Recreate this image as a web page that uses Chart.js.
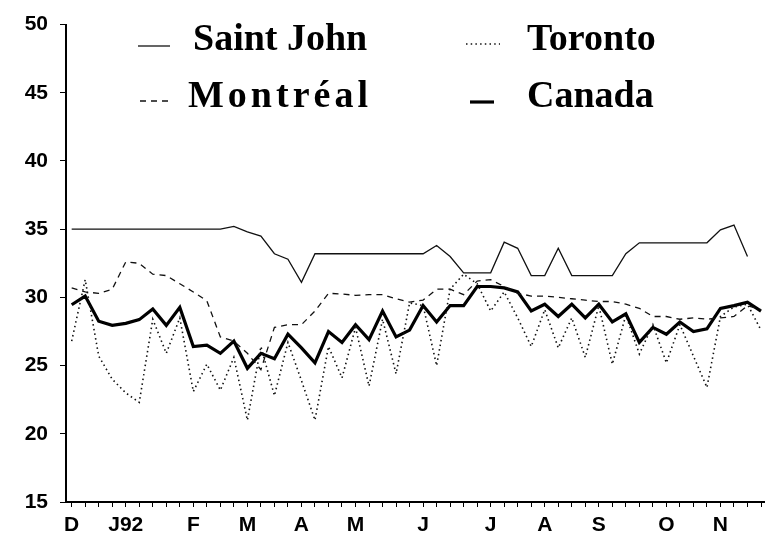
<!DOCTYPE html>
<html>
<head>
<meta charset="utf-8">
<script src="https://cdn.jsdelivr.net/npm/chart.js@4.4.1/dist/chart.umd.min.js"></script>
<style>
  html, body { margin: 0; padding: 0; background: #fff; overflow: hidden; }
  #wrap { position: relative; width: 767px; height: 548px; }
</style>
</head>
<body>
<div id="wrap"><canvas id="rent-chart"></canvas></div>
<script>
// weekly, Dec 1991 - Nov 1992 (52 weeks)
const weeks = Array.from({ length: 52 }, (_, i) => i);

const monthWeeks = [0, 4, 9, 13, 17, 21, 26, 31, 35, 39, 44, 48];
const monthLabels = ['D', 'J92', 'F', 'M', 'A', 'M', 'J', 'J', 'A', 'S', 'O', 'N'];

const saintJohn = [
  35.0, 35.0, 35.0, 35.0, 35.0, 35.0, 35.0, 35.0, 35.0, 35.0,
  35.0, 35.0, 35.2, 34.8, 34.5, 33.2, 32.8, 31.1, 33.2, 33.2,
  33.2, 33.2, 33.2, 33.2, 33.2, 33.2, 33.2, 33.8, 33.0, 31.8,
  31.8, 31.8, 34.05, 33.6, 31.6, 31.6, 33.6, 31.6, 31.6, 31.6,
  31.6, 33.2, 34.0, 34.0, 34.0, 34.0, 34.0, 34.0, 34.95, 35.3,
  33.0, null,
];
const toronto = [
  26.8, 31.3, 25.7, 24.0, 23.0, 22.3, 28.4, 25.9, 28.5, 23.1,
  25.1, 23.2, 25.6, 21.0, 26.4, 22.8, 26.7, 23.9, 21.0, 26.4,
  24.1, 27.8, 23.5, 28.4, 24.4, 29.6, 29.4, 25.0, 30.6, 31.7,
  31.0, 29.0, 30.4, 28.5, 26.4, 29.1, 26.3, 28.5, 25.6, 29.4,
  25.1, 28.7, 25.85, 28.0, 25.2, 28.0, 25.7, 23.4, 28.6, 29.3,
  29.5, 27.6,
];
const montreal = [
  30.7, 30.4, 30.3, 30.6, 32.6, 32.5, 31.7, 31.6, 31.0, 30.4,
  29.75, 27.1, 26.8, 25.9, 24.7, 27.8, 28.0, 28.0, 29.0, 30.3,
  30.25, 30.15, 30.2, 30.2, 29.9, 29.65, 29.8, 30.6, 30.6, 30.2,
  31.2, 31.3, 30.8, 30.3, 30.1, 30.1, 30.0, 29.9, 29.8, 29.7,
  29.7, 29.5, 29.2, 28.6, 28.6, 28.4, 28.5, 28.4, 28.5, 28.6,
  29.4, 29.1,
];
const canada = [
  29.46, 30.1, 28.25, 27.95, 28.1, 28.37, 29.15, 27.95, 29.27, 26.4,
  26.5, 25.9, 26.8, 24.8, 25.9, 25.5, 27.3, 26.3, 25.2, 27.5,
  26.7, 28.0, 26.9, 29.0, 27.1, 27.6, 29.4, 28.2, 29.4, 29.4,
  30.8, 30.8, 30.7, 30.4, 29.0, 29.5, 28.6, 29.5, 28.5, 29.5,
  28.2, 28.8, 26.7, 27.8, 27.3, 28.2, 27.5, 27.7, 29.2, 29.4,
  29.65, 29.0,
];

const yTicks = [15, 20, 25, 30, 35, 40, 45, 50];

const ink = '#111';
const tickFont = { family: "'Liberation Sans', Arial, sans-serif", size: 21, weight: 'bold' };
const legendFont = "bold 38px 'Liberation Serif', 'Times New Roman', serif";

const toPoints = (vals) => weeks.map((w, i) => ({ x: w, y: vals[i] }));

const datasets = [
  { label: 'Saint John', data: toPoints(saintJohn), borderColor: ink, borderWidth: 1.3, borderDash: [] },
  { label: 'Toronto', data: toPoints(toronto), borderColor: ink, borderWidth: 1.6, borderDash: [1.5, 3.2] },
  { label: 'Montréal', data: toPoints(montreal), borderColor: ink, borderWidth: 1.3, borderDash: [6, 5] },
  { label: 'Canada', data: toPoints(canada), borderColor: '#000', borderWidth: 3.2, borderDash: [] },
].map((d) => ({ ...d, pointRadius: 0, tension: 0, fill: false, spanGaps: false }));

// legend: two columns, sample line then label
const legendSpots = [
  { x0: 138, x1: 170, y: 46, tx: 193, ty: 50, gap: '0px' },
  { x0: 466, x1: 500, y: 44, tx: 527, ty: 50, gap: '0px' },
  { x0: 140, x1: 172, y: 101, tx: 188, ty: 107, gap: '4px' },
  { x0: 470, x1: 494, y: 102, tx: 527, ty: 107, gap: '0px' },
];

const legendPlugin = {
  id: 'twoColLegend',
  afterDraw(chart) {
    const { ctx } = chart;
    ctx.save();
    chart.data.datasets.forEach((ds, i) => {
      const s = legendSpots[i];
      ctx.strokeStyle = ds.borderColor;
      ctx.lineWidth = ds.borderWidth;
      ctx.setLineDash(ds.borderDash);
      ctx.beginPath();
      ctx.moveTo(s.x0, s.y);
      ctx.lineTo(s.x1, s.y);
      ctx.stroke();
      ctx.setLineDash([]);
      ctx.fillStyle = '#000';
      ctx.font = legendFont;
      ctx.letterSpacing = s.gap;
      ctx.textAlign = 'left';
      ctx.textBaseline = 'alphabetic';
      ctx.fillText(ds.label, s.tx, s.ty);
    });
    ctx.letterSpacing = '0px';
    ctx.restore();
  },
};

const config = {
  type: 'line',
  data: { datasets },
  options: {
    animation: false,
    responsive: true,
    maintainAspectRatio: false,
    devicePixelRatio: 1,
    layout: { padding: { top: 22, right: 0, bottom: 0, left: 0 } },
    plugins: { legend: { display: false }, tooltip: { enabled: false } },
    scales: {
      x: {
        type: 'linear',
        min: -0.42,
        max: 51.24,
        border: { display: true, color: '#000', width: 2 },
        grid: { drawOnChartArea: false, drawTicks: true, tickLength: 5, color: '#000', lineWidth: 1 },
        ticks: {
          stepSize: 1,
          autoSkip: false,
          includeBounds: false,
          maxRotation: 0,
          padding: 6,
          color: '#000',
          font: tickFont,
          callback: (v) => {
            const k = monthWeeks.indexOf(v);
            return k >= 0 ? monthLabels[k] : '';
          },
        },
        afterFit: (s) => { s.height = 46; },
      },
      y: {
        min: 15,
        max: 50,
        border: { display: true, color: '#000', width: 2 },
        grid: { drawOnChartArea: false, drawTicks: true, tickLength: 6, color: '#000', lineWidth: 1 },
        afterBuildTicks: (s) => { s.ticks = yTicks.map((v) => ({ value: v })); },
        ticks: { padding: 12, color: '#000', font: tickFont },
        afterFit: (s) => { s.width = 66; },
      },
    },
  },
  plugins: [legendPlugin],
};

const rentChart = new Chart(document.getElementById('rent-chart'), config);
</script>
</body>
</html>
